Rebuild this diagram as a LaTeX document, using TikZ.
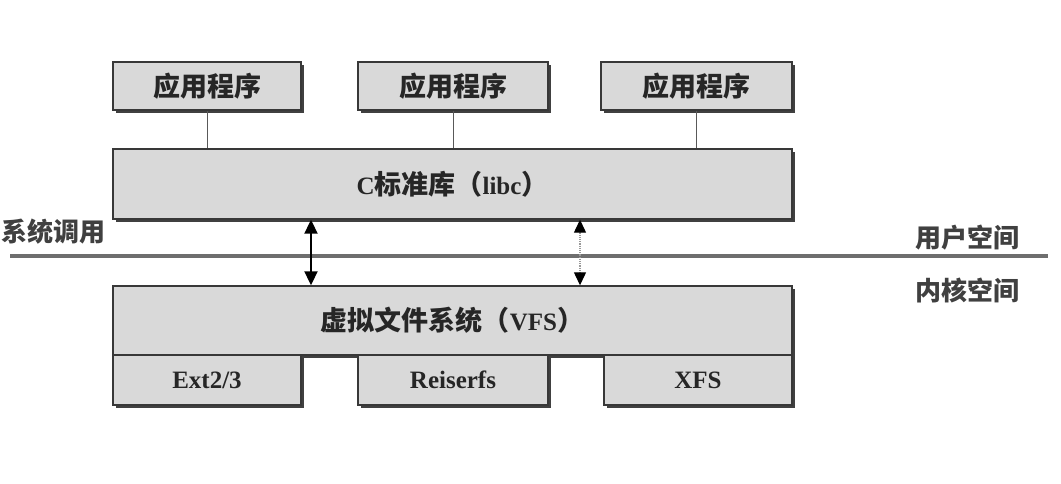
\documentclass[tikz,border=0pt]{standalone}
\usepackage{fontspec}
\setmainfont{Liberation Serif}
\newfontfamily\cjk{Noto Sans CJK SC}
\usetikzlibrary{shadows,arrows.meta}
\definecolor{boxfill}{HTML}{D9D9D9}
\definecolor{boxline}{HTML}{383838}
\definecolor{sepline}{HTML}{6E6E6E}
\tikzset{
  box/.style={draw=boxline, line width=1.4pt, fill=boxfill, inner sep=0pt,
    drop shadow={shadow xshift=3pt, shadow yshift=-3pt, fill=black!75, opacity=1},
    font=\bfseries\fontsize{25}{28}\selectfont, text=black!85},
  link/.style={draw=black!65, line width=0.9pt},
  sysarrow/.style={{Triangle[width=13pt,length=14pt]}-{Triangle[width=13pt,length=14pt]}, line width=2pt, black},
  sysarrowlight/.style={{Triangle[width=12pt,length=13pt,color=black]}-{Triangle[width=12pt,length=13pt,color=black]}, line width=1.2pt, black!40, densely dotted},
  lbl/.style={font=\cjk\bfseries\fontsize{26}{28}\selectfont, text=black!75, inner sep=0pt}
}
\begin{document}
\begin{tikzpicture}[x=1pt,y=-1pt]
\useasboundingbox (0,0) rectangle (1061,484);
% application boxes
\node[box, minimum width=188pt, minimum height=48pt] (a1) at (207,86) {\cjk\fontsize{27}{30}\selectfont 应用程序};
\node[box, minimum width=190pt, minimum height=48pt] (a2) at (453,86) {\cjk\fontsize{27}{30}\selectfont 应用程序};
\node[box, minimum width=191pt, minimum height=48pt] (a3) at (696.5,86) {\cjk\fontsize{27}{30}\selectfont 应用程序};
% C library
\node[box, minimum width=679pt, minimum height=70pt] (clib) at (452.5,184) {C{\cjk\fontsize{27}{30}\selectfont 标准库（}libc{\cjk\fontsize{27}{30}\selectfont ）}};
% links
\draw[link] (a1.south) -- (a1.south |- clib.north);
\draw[link] (a2.south) -- (a2.south |- clib.north);
\draw[link] (a3.south) -- (a3.south |- clib.north);
% separator line
\coordinate (lineL) at (10,256);
\coordinate (lineR) at (1048,256);
\draw[sepline, line width=4pt] (lineL) -- (lineR);
% labels
\node[lbl, anchor=west] (sys) at (1,232) {系统调用};
\node[lbl] (user) at (967,238) {用户空间};
\node[lbl] (kern) at (967,290) {内核空间};
% VFS
\node[box, minimum width=679pt, minimum height=69pt] (vfs) at (452.5,320.5) {{\cjk\fontsize{27}{30}\selectfont 虚拟文件系统（}VFS{\cjk\fontsize{27}{30}\selectfont ）}};
% file systems
\node[box, minimum width=188pt, minimum height=50pt] (ext) at (207,380) {Ext2/3};
\node[box, minimum width=190pt, minimum height=50pt] (reis) at (453,380) {Reiserfs};
\node[box, minimum width=188pt, minimum height=50pt] (xfs) at (698,380) {XFS};
% system call arrows
\coordinate (s1) at (311,0);
\coordinate (s2) at (580,0);
\draw[sysarrow] (clib.south -| s1) -- (vfs.north -| s1);
\draw[sysarrowlight] (clib.south -| s2) -- (vfs.north -| s2);
\end{tikzpicture}
\end{document}
